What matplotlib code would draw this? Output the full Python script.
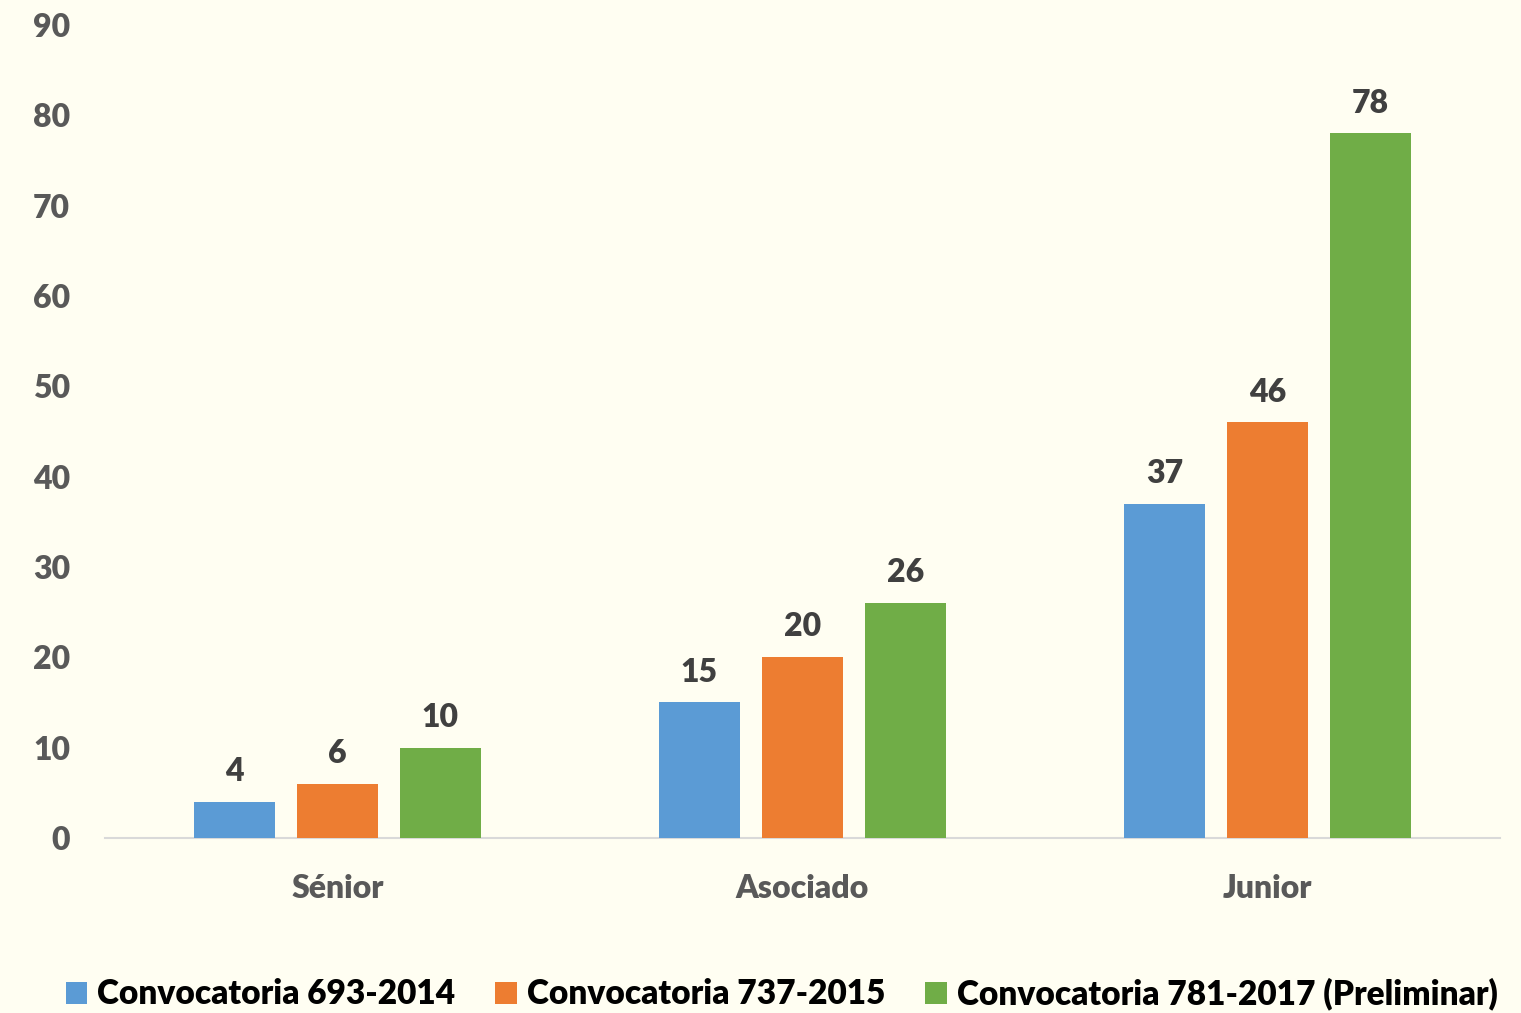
import matplotlib.pyplot as plt
import numpy as np

categories = ["Sénior", "Asociado", "Junior"]
series_names = ["Convocatoria 693-2014", "Convocatoria 737-2015",
                "Convocatoria 781-2017 (Preliminar)"]
conv_2014 = [4, 15, 37]
conv_2015 = [6, 20, 46]
conv_2017 = [10, 26, 78]
colors = ["#5B9BD5", "#ED7D31", "#70AD47"]

plt.rcParams['font.family'] = ['Lato', 'DejaVu Sans']
bg = "#FFFEF2"

fig = plt.figure(figsize=(15.21, 10.13), dpi=100, facecolor=bg)
ax = fig.add_axes([0.069, 0.1728, 0.917, 0.8025], facecolor=bg)

x = np.arange(len(categories))
width = 0.174
step = 0.2215
for i, (vals, name) in enumerate(zip([conv_2014, conv_2015, conv_2017], series_names)):
    bars = ax.bar(x + (i - 1) * step, vals, width, color=colors[i], label=name, zorder=3)
    for b, v in zip(bars, vals):
        ax.text(b.get_x() + b.get_width() / 2, v + 1.75, str(v), ha='center', va='bottom',
                fontsize=23, fontweight='heavy', color="#404040")

ax.set_xlim(-0.5, 2.5)
ax.set_ylim(0, 90)
ax.set_yticks(range(0, 91, 10))
ax.set_xticks(x)
ax.set_xticklabels(categories)
ax.tick_params(axis='both', length=0, labelsize=23, labelcolor="#595959")
ax.tick_params(axis='x', pad=26)
ax.tick_params(axis='y', pad=25)
for lbl in ax.get_xticklabels() + ax.get_yticklabels():
    lbl.set_fontweight('heavy')
for s in ['top', 'right', 'left']:
    ax.spines[s].set_visible(False)
ax.spines['bottom'].set_color("#D9D9D9")
ax.spines['bottom'].set_linewidth(1.5)

fig.legend(loc='lower center', bbox_to_anchor=(0.514, -0.027), ncol=3, frameon=False,
           prop={'size': 24, 'weight': 'heavy'}, handlelength=0.65, handleheight=0.65,
           handletextpad=0.3, columnspacing=1.2, labelcolor='black')

fig.savefig("out.png", dpi=100, facecolor=bg)
